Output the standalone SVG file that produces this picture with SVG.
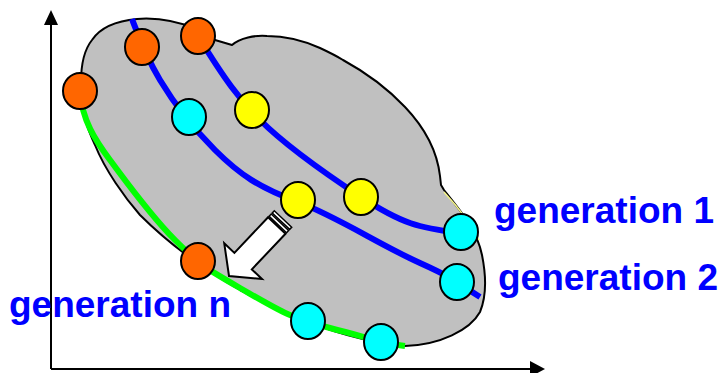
<svg xmlns="http://www.w3.org/2000/svg" width="721" height="373" viewBox="0 0 721 373">
  <defs>
    <style>
      .axis { stroke: #000; stroke-width: 2; fill: none; }
      .head { fill: #000; }
      .region { fill: #c0c0c0; stroke: #000; stroke-width: 2; stroke-linejoin: round; }
      .front { fill: none; stroke: #0000ff; stroke-width: 6; stroke-linecap: butt; }
      .pareto { fill: none; stroke: #00ff00; stroke-width: 6; }
      .pt { stroke: #000; stroke-width: 2; }
      .orange { fill: #ff6600; }
      .cyan { fill: #00ffff; }
      .yellow { fill: #ffff00; }
      .move { fill: #fff; stroke: #000; stroke-width: 2; stroke-linejoin: miter; }
      .stripe { fill: #fff; stroke: #000; stroke-width: 1.5; }
      .label { font-family: "Liberation Sans", Arial, sans-serif; font-weight: bold; font-size: 37px; fill: #0000ff; }
    </style>
  </defs>

  <!-- objective axes -->
  <g id="axes">
    <line class="axis" x1="51" y1="22" x2="51" y2="369"/>
    <polygon class="head" points="51,10 44,25 58,25"/>
    <line class="axis" x1="51" y1="369" x2="532" y2="369"/>
    <polygon class="head" points="545,369 530,361 530,377"/>
  </g>

  <!-- search region (cloud) -->
  <g id="region">
    <path class="region" d="M82,100 C80,80 80,55 92,40 C100,28 115,21 137,19 C160,17 180,22 200,30 L215,40 L232,45 C240,38 255,35 267,36 C285,36 300,39 320,48 C335,55 343,60 343,60 C365,72 387,88 405,107 C425,128 437,150 440,176 L441,185 L444,190 C460,210 477,230 482,255 C487,280 485,300 480,312 C470,330 440,345 405,346 L381,343 C340,335 300,322 240,290 C200,267 165,240 140,215 C125,198 105,170 95,145 C88,130 82,112 82,100 Z"/>
    <path d="M444,192 C457,206 470,222 479,240" fill="none" stroke="#f4f488" stroke-width="1.5"/>
  </g>

  <!-- generation fronts -->
  <g id="connectors">
    <path id="front-1" class="front" d="M198,36 C225,80 240,100 260,120 S320,170 361,197 S420,228 459,233"/>
    <path id="front-2" class="front" d="M132,19 C138,35 145,55 160,80 S190,125 215,150 S260,188 298,202 S380,245 420,263 S460,285 480,297"/>
    <path id="front-n" class="pareto" d="M80,91 C82,120 95,140 110,160 S150,215 175,240 S200,265 240,288 S290,318 330,328 S380,343 405,346"/>
  </g>

  <!-- progress arrow -->
  <g id="progress" transform="translate(283,219) rotate(133.45)">
    <rect class="stripe" x="0" y="-12" width="3" height="24"/>
    <rect class="stripe" x="4.5" y="-12" width="3" height="24"/>
    <polygon class="move" points="9,-12 58,-12 58,-26 78.5,0 58,26 58,12 9,12"/>
  </g>

  <!-- solutions -->
  <g id="p1"><ellipse class="pt orange" cx="80" cy="91" rx="17" ry="18"/></g>
  <g id="p2"><ellipse class="pt orange" cx="142" cy="47" rx="17" ry="18"/></g>
  <g id="p3"><ellipse class="pt orange" cx="198" cy="36" rx="17" ry="18"/></g>
  <g id="p4"><ellipse class="pt cyan" cx="189" cy="117" rx="17" ry="18"/></g>
  <g id="p5"><ellipse class="pt yellow" cx="252" cy="110" rx="17" ry="18"/></g>
  <g id="p6"><ellipse class="pt yellow" cx="298" cy="200" rx="17" ry="18"/></g>
  <g id="p7"><ellipse class="pt yellow" cx="361" cy="197" rx="17" ry="18"/></g>
  <g id="p8"><ellipse class="pt cyan" cx="461" cy="232" rx="17" ry="18"/></g>
  <g id="p9"><ellipse class="pt cyan" cx="457" cy="282" rx="17" ry="18"/></g>
  <g id="p10"><ellipse class="pt orange" cx="198" cy="261" rx="17" ry="18"/></g>
  <g id="p11"><ellipse class="pt cyan" cx="308" cy="321" rx="17" ry="18"/></g>
  <g id="p12"><ellipse class="pt cyan" cx="381" cy="342" rx="17" ry="18"/></g>

  <!-- labels -->
  <g id="label-1"><text class="label" x="494" y="223">generation 1</text></g>
  <g id="label-2"><text class="label" x="498" y="290">generation 2</text></g>
  <g id="label-n"><text class="label" x="9" y="317">generation n</text></g>
</svg>
